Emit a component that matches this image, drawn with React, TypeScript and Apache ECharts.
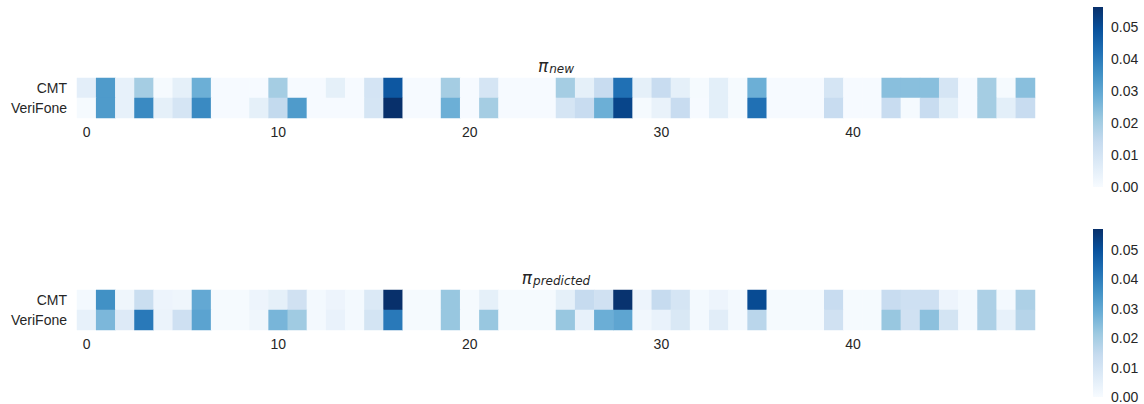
import React, { useEffect, useRef } from "react";
import * as echarts from "echarts";

const COLUMNS: string[] = Array.from({ length: 50 }, (_, i) => String(i));
const ROWS: string[] = ["CMT", "VeriFone"];
const COLORBAR_TICKS: number[] = [0, 0.01, 0.02, 0.03, 0.04, 0.05];

const VMAX_NEW = 0.0564;
const VMAX_PRED = 0.0571;

const NEW_CMT: number[] = [
  0.0057, 0.033, 0.0045, 0.02, 0.0006, 0.005, 0.028, 0.0003, 0.0003, 0.0003,
  0.02, 0.0003, 0.0003, 0.005, 0.0003, 0.01, 0.048, 0.0003, 0.0003, 0.02,
  0.0003, 0.0097, 0.0003, 0.0003, 0.0003, 0.02, 0.005, 0.0135, 0.0425, 0.005,
  0.0135, 0.005, 0.0006, 0.0055, 0.0006, 0.028, 0.0003, 0.0003, 0.0003, 0.0097,
  0.0003, 0.0003, 0.024, 0.024, 0.024, 0.0097, 0.0003, 0.02, 0.0006, 0.024,
];
const NEW_VERIFONE: number[] = [
  0.0006, 0.033, 0.0045, 0.037, 0.005, 0.0097, 0.037, 0.0003, 0.0003, 0.005,
  0.0147, 0.033, 0.0003, 0.0003, 0.0003, 0.0097, 0.0564, 0.0003, 0.0003, 0.028,
  0.0003, 0.02, 0.0003, 0.0003, 0.0003, 0.0097, 0.0135, 0.028, 0.052, 0.0006,
  0.004, 0.0135, 0.0003, 0.0055, 0.0006, 0.0425, 0.0003, 0.0003, 0.0003, 0.0135,
  0.0003, 0.0003, 0.0135, 0.0006, 0.0135, 0.0055, 0.0003, 0.02, 0.0055, 0.0135,
];
const PRED_CMT: number[] = [
  0.0011, 0.036, 0.0023, 0.0131, 0.0029, 0.0023, 0.03, 0.0006, 0.0006, 0.0029,
  0.0051, 0.0114, 0.0011, 0.0029, 0.0011, 0.008, 0.0571, 0.0006, 0.0006, 0.0222,
  0.0006, 0.0051, 0.0006, 0.0006, 0.0006, 0.0051, 0.0143, 0.0114, 0.0565, 0.0029,
  0.0143, 0.0097, 0.0011, 0.0029, 0.0011, 0.0513, 0.0006, 0.0006, 0.0006, 0.0137,
  0.0006, 0.0006, 0.0137, 0.012, 0.012, 0.0029, 0.0011, 0.0188, 0.0011, 0.0188,
];
const PRED_VERIFONE: number[] = [
  0.0046, 0.0262, 0.0074, 0.041, 0.0034, 0.012, 0.0314, 0.0006, 0.0006, 0.0023,
  0.0268, 0.0211, 0.0011, 0.004, 0.0011, 0.0103, 0.041, 0.0006, 0.0006, 0.0222,
  0.0006, 0.0222, 0.0006, 0.0006, 0.0006, 0.0222, 0.0046, 0.0285, 0.0308, 0.0017,
  0.004, 0.0086, 0.0011, 0.0063, 0.0011, 0.0165, 0.0006, 0.0006, 0.0006, 0.0114,
  0.0006, 0.0006, 0.0222, 0.0114, 0.024, 0.0103, 0.0011, 0.0188, 0.0046, 0.0171,
];

const BLUES: string[] = [
  "#f7fbff", "#deebf7", "#c6dbef", "#9ecae1", "#6baed6",
  "#4292c6", "#2171b5", "#08519c", "#08306b",
];

const TEXT_COLOR = "#262626";
const FONT = "Liberation Sans, Arial, sans-serif";

function toCells(rows: number[][]): [number, number, number][] {
  const out: [number, number, number][] = [];
  rows.forEach((row, r) => row.forEach((v, c) => out.push([c, r, v])));
  return out;
}

function gradient() {
  return new echarts.graphic.LinearGradient(
    0, 1, 0, 0,
    BLUES.map((c, i) => ({ offset: i / (BLUES.length - 1), color: c }))
  );
}

export default function App() {
  const ref = useRef<HTMLDivElement>(null);

  useEffect(() => {
    if (!ref.current) return;
    const chart = echarts.init(ref.current, undefined, { renderer: "svg" });

    const heatGrids = [
      { left: 77, width: 958, top: 78, height: 40 },
      { left: 77, width: 958, top: 290, height: 40 },
    ];
    const cbGrids = [
      { left: 1093, width: 10, top: 7, height: 180 },
      { left: 1093, width: 10, top: 229, height: 168 },
    ];

    const heatX = [0, 1].map((g) => ({
      type: "category",
      gridIndex: g,
      data: COLUMNS,
      axisLine: { show: false },
      axisTick: { show: false },
      splitLine: { show: false },
      axisLabel: {
        interval: 9,
        color: TEXT_COLOR,
        fontSize: 14,
        fontFamily: FONT,
        margin: 7,
      },
    }));
    const heatY = [0, 1].map((g) => ({
      type: "category",
      gridIndex: g,
      data: ROWS,
      inverse: true,
      axisLine: { show: false },
      axisTick: { show: false },
      splitLine: { show: false },
      axisLabel: { color: TEXT_COLOR, fontSize: 14, fontFamily: FONT, margin: 10 },
    }));
    const cbX = [2, 3].map((g) => ({
      type: "category",
      gridIndex: g,
      data: ["cb"],
      show: false,
    }));
    const cbY = [2, 3].map((g, i) => ({
      type: "value",
      gridIndex: g,
      position: "right",
      min: 0,
      max: i === 0 ? VMAX_NEW : VMAX_PRED,
      interval: 0.01,
      axisLine: { show: false },
      axisTick: { show: false },
      splitLine: { show: false },
      axisLabel: {
        showMaxLabel: false,
        color: TEXT_COLOR,
        fontSize: 14,
        fontFamily: FONT,
        margin: 8,
        formatter: (v: number) =>
          COLORBAR_TICKS.some((t) => Math.abs(t - v) < 1e-9) ? v.toFixed(2) : "",
      },
    }));

    const titleRich = {
      pi: { fontSize: 17, fontStyle: "italic", fontWeight: "normal", fontFamily: "DejaVu Sans", color: TEXT_COLOR, lineHeight: 18, verticalAlign: "top" },
      sub: { fontSize: 12, fontStyle: "italic", fontWeight: "normal", fontFamily: "DejaVu Sans", color: TEXT_COLOR, lineHeight: 14, padding: [6, 0, 0, 1], verticalAlign: "bottom" },
    };

    chart.setOption({
      animation: false,
      backgroundColor: "#ffffff",
      title: [
        { text: "{pi|π}{sub|new}", left: 556, textAlign: "center", top: 57, padding: 0, textStyle: { fontWeight: "normal", rich: titleRich } },
        { text: "{pi|π}{sub|predicted}", left: 556, textAlign: "center", top: 269, padding: 0, textStyle: { fontWeight: "normal", rich: titleRich } },
      ],
      grid: [...heatGrids, ...cbGrids],
      xAxis: [...heatX, ...cbX],
      yAxis: [...heatY, ...cbY],
      visualMap: [
        { type: "continuous", show: false, seriesIndex: 0, dimension: 2, min: 0, max: VMAX_NEW, inRange: { color: BLUES } },
        { type: "continuous", show: false, seriesIndex: 1, dimension: 2, min: 0, max: VMAX_PRED, inRange: { color: BLUES } },
      ],
      series: [
        { type: "heatmap", xAxisIndex: 0, yAxisIndex: 0, data: toCells([NEW_CMT, NEW_VERIFONE]), itemStyle: { borderWidth: 0 }, emphasis: { disabled: true } },
        { type: "heatmap", xAxisIndex: 1, yAxisIndex: 1, data: toCells([PRED_CMT, PRED_VERIFONE]), itemStyle: { borderWidth: 0 }, emphasis: { disabled: true } },
        { type: "bar", xAxisIndex: 2, yAxisIndex: 2, data: [VMAX_NEW], barWidth: "100%", itemStyle: { color: gradient() }, silent: true },
        { type: "bar", xAxisIndex: 3, yAxisIndex: 3, data: [VMAX_PRED], barWidth: "100%", itemStyle: { color: gradient() }, silent: true },
      ],
    });

    return () => chart.dispose();
  }, []);

  return (
    <div
      ref={ref}
      style={{ position: "absolute", left: 0, top: 0, width: 1144, height: 404, background: "#fff" }}
    />
  );
}
